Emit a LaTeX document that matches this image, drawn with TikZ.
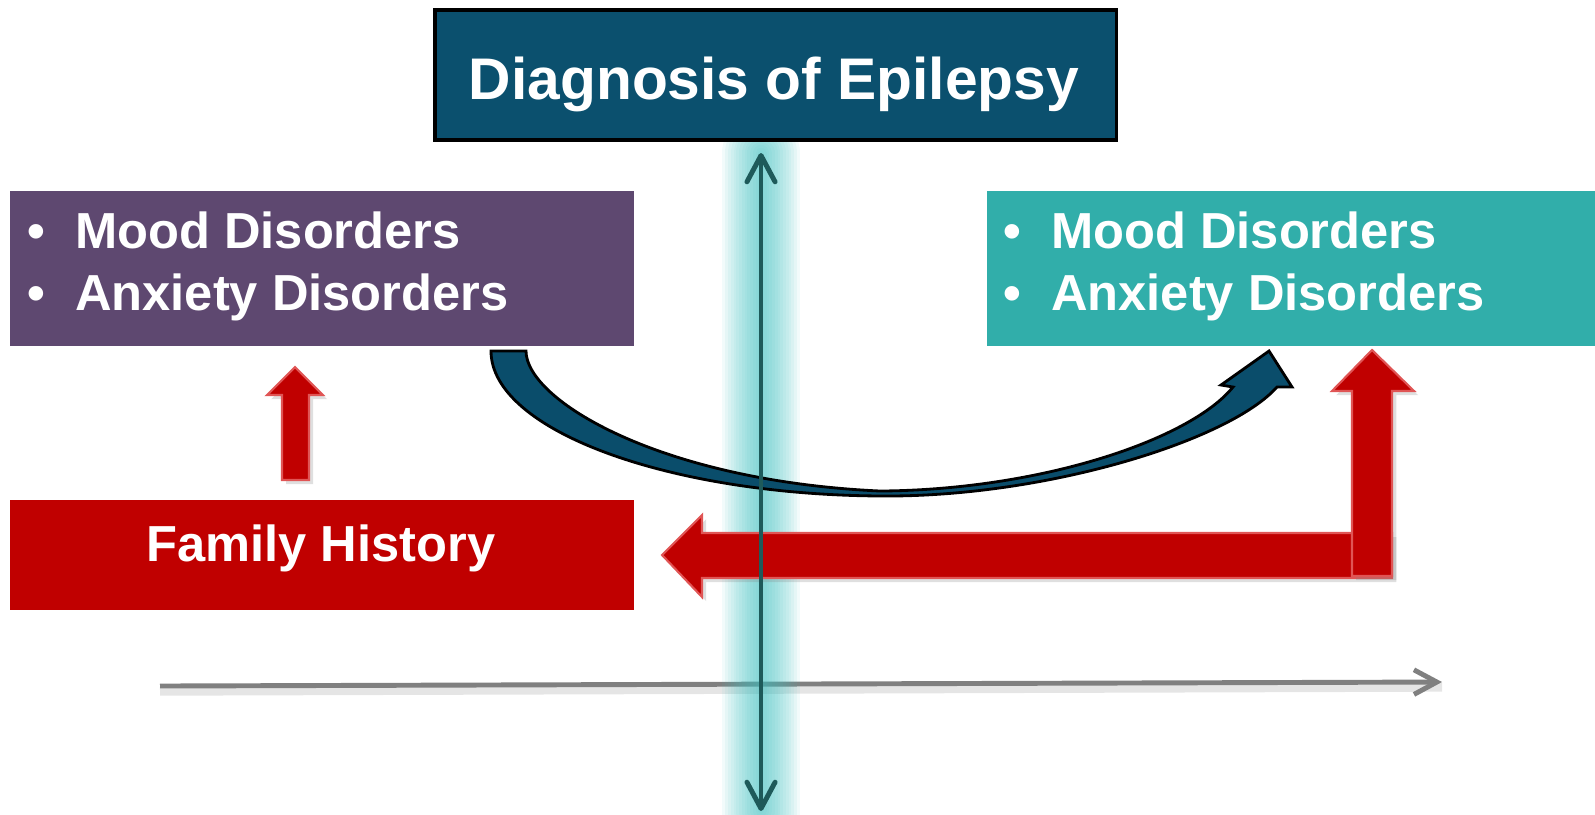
\documentclass[tikz,border=0pt]{standalone}
\usepackage{fontspec}
\setmainfont{Liberation Sans}
\usetikzlibrary{arrows.meta,shadows}
\definecolor{azulDx}{HTML}{0B506E}
\definecolor{moradoMD}{HTML}{5E4870}
\definecolor{tealMD}{HTML}{31AEAA}
\definecolor{rojoFH}{HTML}{C00000}
\definecolor{rojoBorde}{HTML}{E05555}
\definecolor{curvaAz}{HTML}{0A4D6B}
\definecolor{lineaT}{HTML}{1E5A5A}
\definecolor{brillo}{HTML}{40C0C0}
\definecolor{grisEje}{HTML}{808080}

\begin{document}
\begin{tikzpicture}[x=0.01cm,y=-0.01cm,
    caja/.style={rectangle,inner sep=0pt,outer sep=0pt,anchor=north west},
    item/.style={anchor=base west,inner sep=0pt,text=white,font=\fontsize{14.4}{17}\selectfont\bfseries},
    flechaRoja/.style={fill=rojoFH,draw=rojoBorde,line width=0.6pt,line join=miter,
      drop shadow={opacity=0.25,shadow xshift=1.2pt,shadow yshift=-1.2pt}}]
  \useasboundingbox (0,0) rectangle (1595,814);
  % ejes
  \coordinate (tTop) at (761,153);
  \coordinate (tBot) at (761,811);
  \coordinate (ejeIni) at (160,686);
  \coordinate (ejeFin) at (1442,682);
  \draw[black,opacity=0.1,line width=2.5pt] ([yshift=-1.5pt]ejeIni) -- ([yshift=-1.5pt]ejeFin);
  \draw[grisEje,line width=1.4pt,-{Straight Barb[length=6.5pt,width=7pt]}] (ejeIni) -- (ejeFin);
  \foreach \i in {1,...,14}
    \draw[brillo,line width=\i*0.55mm,opacity=0.07,line cap=round] (tBot) -- (tTop);
  % cajas
  \node[caja,fill=moradoMD,minimum width=6.24cm,minimum height=1.55cm] (moodL) at (10,191) {};
  \node[caja,fill=tealMD,minimum width=6.13cm,minimum height=1.55cm] (moodR) at (987,191) {};
  \node[caja,fill=rojoFH,minimum width=6.24cm,minimum height=1.10cm] (famHist) at (10,500) {};
  \node[item] (mL1) at (27,248) {\makebox[13.5pt][l]{\textbullet}Mood Disorders};
  \node[item] (mL2) at (27,310) {\makebox[13.5pt][l]{\textbullet}Anxiety Disorders};
  \node[item] (mR1) at (1003,248) {\makebox[13.5pt][l]{\textbullet}Mood Disorders};
  \node[item] (mR2) at (1003,310) {\makebox[13.5pt][l]{\textbullet}Anxiety Disorders};
  \node[item,anchor=base] (famTxt) at (321,561) {Family History};
  % flecha curva
  \path[fill=curvaAz,draw=black,line width=0.8pt,line join=miter]
    (491,351) .. controls (491,430) and (669,496) .. (887,496)
    .. controls (1050,496) and (1230,440) .. (1277,387)
    -- (1292,387) -- (1269,351) -- (1221,385) -- (1233,387)
    .. controls (1190,440) and (1040,490) .. (880,491)
    .. controls (660,481) and (526,400) .. (526,351) -- cycle;
  % flechas rojas
  \path[flechaRoja] (282,480) -- (282,395) -- (267,395) -- (295,367) -- (323,395) -- (309,395) -- (309,480) -- cycle;
  \path[flechaRoja] (662,555) -- (702,515) -- (702,533) -- (1392,533) -- (1392,578) -- (702,578) -- (702,597) -- cycle;
  \path[flechaRoja] (1352,576) -- (1352,391) -- (1332,391) -- (1372,350) -- (1414,391) -- (1392,391) -- (1392,576) -- cycle;
  % linea del diagnostico
  \draw[lineaT,line width=1.4pt,{Straight Barb[round,length=7.5pt,width=8pt]}-{Straight Barb[round,length=7.5pt,width=8pt]}] (tBot) -- (tTop);
  \node[caja,fill=azulDx,draw=black,line width=1pt,minimum width=6.81cm,minimum height=1.30cm] (diag) at (435,10) {};
  \node[anchor=base,inner sep=0pt,text=white,font=\fontsize{16.7}{20}\selectfont\bfseries] (diagTxt) at (774,99) {Diagnosis of Epilepsy};
\end{tikzpicture}
\end{document}
